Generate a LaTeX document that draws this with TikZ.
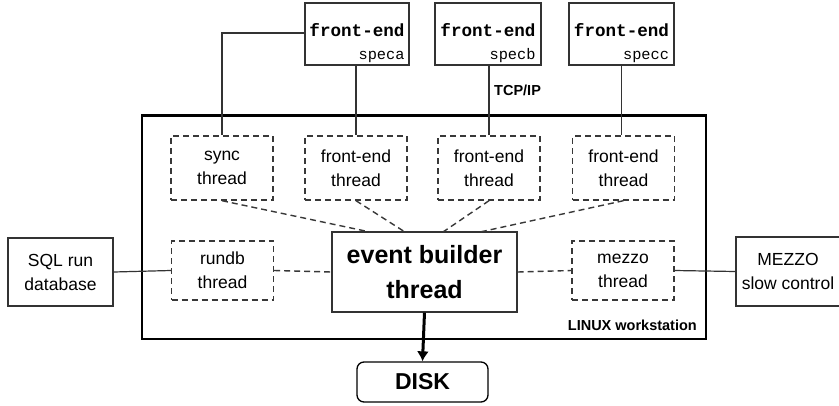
\documentclass[tikz,border=0pt]{standalone}
\usepackage{fontspec}
\setmainfont{Liberation Sans}
\setmonofont{Liberation Mono}
\usetikzlibrary{arrows.meta}
\definecolor{ln}{HTML}{333333}
\definecolor{dl}{HTML}{383838}
\begin{document}
\begin{tikzpicture}[x=1pt,y=-1pt,
  txt/.style={font=\fontsize{17.5}{24}\selectfont, align=center, inner sep=0pt},
  sbox/.style={draw=ln, line width=1.2pt, txt, minimum width=104pt, minimum height=66pt},
  thr/.style={draw=dl, line width=1.4pt, dash pattern=on 6pt off 4pt, txt, minimum width=102pt},
  febox/.style={draw=ln, line width=1.2pt, align=right, inner xsep=3pt, inner ysep=0pt, minimum height=62pt,
                font=\ttfamily\fontsize{15.3}{22}\selectfont},
  conn/.style={draw=ln, line width=1.2pt},
  dconn/.style={draw=dl, line width=1.4pt, dash pattern=on 6pt off 4pt},
]
\useasboundingbox (0,0) rectangle (839,405);
% workstation frame
\draw[line width=2.8pt, black] (142,115.5) rectangle (706,339);
\node[anchor=east, inner sep=0pt, font=\bfseries\fontsize{14.5}{16}\selectfont] (linux) at (697,325) {LINUX workstation};

% front-end boxes
\node[febox, minimum width=104pt] (fe1) at (357,34) {{\rule{0pt}{32pt}\bfseries\fontsize{17.6}{22}\selectfont front-end}\\[1pt]speca};
\node[febox, minimum width=106pt] (fe2) at (488,34) {{\rule{0pt}{32pt}\bfseries\fontsize{17.6}{22}\selectfont front-end}\\[1pt]specb};
\node[febox, minimum width=105pt] (fe3) at (621.5,34) {{\rule{0pt}{32pt}\bfseries\fontsize{17.6}{22}\selectfont front-end}\\[1pt]specc};

% thread boxes
\node[thr, minimum height=64pt] (sync) at (222,168) {sync\\thread};
\node[thr, minimum height=64pt] (t1) at (356,168) {front-end\\thread};
\node[thr, minimum height=64pt] (t2) at (489,168) {front-end\\thread};
\node[thr, minimum height=64pt] (t3) at (623.5,168) {front-end\\thread};
\node[thr, minimum height=59pt] (rundb) at (222.5,270.5) {rundb\\thread};
\node[thr, minimum height=59pt] (mezzo) at (623,270.5) {mezzo\\thread};

% event builder
\node[draw=ln, line width=1.2pt, minimum width=185pt, minimum height=80pt, align=center, inner sep=0pt,
      font=\bfseries\fontsize{25}{35}\selectfont] (eb) at (424.5,272) {event builder\\thread};

% external boxes
\node[sbox, minimum width=105pt, minimum height=68pt] (sql) at (60.5,272) {SQL run\\database};
\node[sbox, minimum width=104pt, minimum height=69pt] (mez) at (788,271.5) {MEZZO\\slow control};

% disk
\node[draw=black, line width=1.3pt, rounded corners=7pt, minimum width=131pt, minimum height=40pt,
      inner sep=0pt, font=\bfseries\fontsize{23}{26}\selectfont] (disk) at (422.5,382) {DISK};

\node[anchor=west, inner sep=0pt, font=\bfseries\fontsize{14.5}{16}\selectfont] (tcp) at (494,90) {TCP/IP};

% connectors top
\coordinate (c1) at (222,33);
\draw[conn] (fe1.west |- c1) -- (c1) -- (sync.north);
\draw[conn] (fe1.south -| t1.north) -- (t1.north);
\draw[conn] (fe2.south -| t2.north) -- (t2.north);
\draw[conn] (fe3.south) -- (fe3.south |- t3.north);

% fan to event builder
\coordinate (e1) at (370,232);
\coordinate (e2) at (405,232);
\coordinate (e3) at (443,232);
\coordinate (e4) at (480,232);
\draw[dconn] (sync.south) -- (e1);
\draw[dconn] (t1.south) -- (e2);
\draw[dconn] (t2.south) -- (e3);
\draw[dconn] (t3.south) -- (e4);

% side connections
\draw[dconn] (rundb.east) -- (eb.west);
\draw[dconn] (eb.east) -- (mezzo.west);
\draw[conn] (sql.east) -- (rundb.west);
\draw[conn] (mezzo.east) -- (mez.west);

% disk arrow
\draw[line width=3pt, black, -{Latex[length=10pt,width=12pt]}] (eb.south) -- (disk.north);
\end{tikzpicture}
\end{document}
